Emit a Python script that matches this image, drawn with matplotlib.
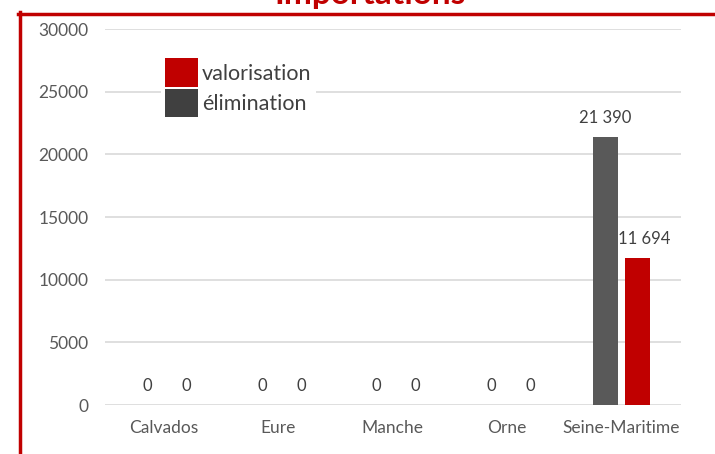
import matplotlib.pyplot as plt
import numpy as np
from matplotlib.patches import Patch
from matplotlib.lines import Line2D

# donnees
departements = ["Calvados", "Eure", "Manche", "Orne", "Seine-Maritime"]
elimination = [0, 0, 0, 0, 21390]
valorisation = [0, 0, 0, 0, 11694]
etiquettes_elim = ["0", "0", "0", "0", "21 390"]
etiquettes_valo = ["0", "0", "0", "0", "11 694"]
yticks = [0, 5000, 10000, 15000, 20000, 25000, 30000]

ROUGE = "#C00000"
GRIS = "#595959"
TEXTE = "#595959"

plt.rcParams['font.family'] = ['Lato', 'DejaVu Sans']

W, H = 715, 454
fig = plt.figure(figsize=(W / 100, H / 100), dpi=100)

# zone du graphique
ax = fig.add_axes([105 / W, (H - 405) / H, (681 - 105) / W, (405 - 29) / H])
x = np.arange(len(departements))
larg = 0.22
dec = 0.14

ax.bar(x - dec, elimination, larg, color=GRIS, zorder=3)
ax.bar(x + dec, valorisation, larg, color=ROUGE, zorder=3)

for xi, v, t in zip(x, elimination, etiquettes_elim):
    ax.annotate(t, (xi - dec, v), xytext=(0, 8), textcoords="offset points",
                ha="center", va="bottom", fontsize=12, color="#404040")
for xi, v, t in zip(x, valorisation, etiquettes_valo):
    ax.annotate(t, (xi + dec, v), xytext=(5, 8), textcoords="offset points",
                ha="center", va="bottom", fontsize=12, color="#404040")

ax.set_xlim(-0.51, 4.52)
ax.set_ylim(0, 30000)
ax.set_yticks(yticks)
ax.set_xticks(x)
ax.set_xticklabels(departements)
ax.tick_params(axis="both", length=0, labelsize=12.5, colors=TEXTE)
ax.tick_params(axis="y", pad=12)
ax.tick_params(axis="x", pad=11)
ax.grid(axis="y", color="#D9D9D9", linewidth=1.2, zorder=0)
for s in ax.spines.values():
    s.set_visible(False)

handles = [Patch(facecolor=ROUGE, edgecolor="none"),
           Patch(facecolor="#404040", edgecolor="none")]
leg = fig.legend(handles, ["valorisation", "élimination"], loc="upper left",
                 bbox_to_anchor=(161 / W, 1 - 54 / H), frameon=True, fontsize=15.5,
                 handlelength=1.5, handleheight=1.65, handletextpad=0.2,
                 labelspacing=0.1, borderpad=0.2, borderaxespad=0)
leg.get_frame().set_facecolor("white")
leg.get_frame().set_edgecolor("none")
leg.get_frame().set_alpha(1)
for t in leg.get_texts():
    t.set_color("#404040")

# titre coupe en haut
fig.text(370 / W, 1 - 4 / H, "Importations", ha="center", va="baseline",
         fontsize=24, fontweight="bold", color=ROUGE)

# cadre rouge
fig.add_artist(Line2D([18 / W, 1], [1 - 13.5 / H, 1 - 13.5 / H], color=ROUGE,
                      linewidth=2.5, transform=fig.transFigure))
fig.add_artist(Line2D([19.5 / W, 19.5 / W], [0, 1 - 12 / H], color=ROUGE,
                      linewidth=2.5, transform=fig.transFigure))

fig.savefig("out.png", dpi=100)
